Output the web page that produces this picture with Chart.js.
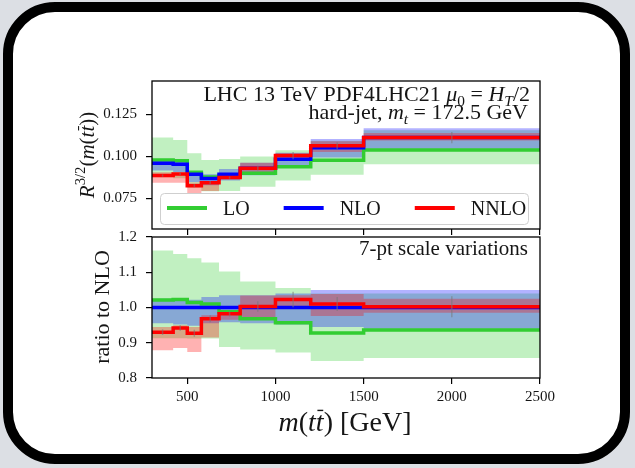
<!DOCTYPE html>
<html>
<head>
<meta charset="utf-8">
<script src="https://cdn.jsdelivr.net/npm/chart.js@4"></script>
<style>
html,body{margin:0;padding:0;width:635px;height:468px;overflow:hidden;background:#dcdfe4;}
#frame{position:absolute;left:3px;top:2px;width:627px;height:462px;box-sizing:border-box;border:10px solid #000;border-radius:52px;background:#fff;}
canvas{position:absolute;left:0;top:0;}
</style>
</head>
<body>
<div id="frame"></div>
<canvas id="top" width="635" height="468"></canvas>
<canvas id="bot" width="635" height="468"></canvas>
<script>
// ---- data ----
const edges = [300, 420, 500, 580, 680, 800, 1000, 1200, 1500, 2500];
const xTicks = [500, 1000, 1500, 2000, 2500];
const topTicks = [0.075, 0.100, 0.125];
const ratioTicks = [0.8, 0.9, 1.0, 1.1, 1.2];

// top panel: R^{3/2}(m(tt))
const loTop     = [0.0978, 0.0974, 0.0905, 0.0877, 0.0882, 0.0899, 0.0938, 0.0976, 0.1038];
const loTopUp   = [0.1112, 0.1097, 0.1018, 0.0978, 0.0984, 0.0998, 0.1036, 0.1092, 0.1155];
const loTopDn   = [0.0875, 0.0869, 0.0814, 0.0791, 0.0793, 0.0818, 0.0856, 0.0890, 0.0952];
const nloTop    = [0.0958, 0.0952, 0.0893, 0.0867, 0.0893, 0.0929, 0.0982, 0.1050, 0.1111];
const nloTopUp  = [0.0982, 0.0976, 0.0913, 0.0893, 0.0924, 0.0962, 0.1021, 0.1103, 0.1167];
const nloTopDn  = [0.0915, 0.0906, 0.0847, 0.0828, 0.0855, 0.0887, 0.0935, 0.0992, 0.1044];
const nnloTop   = [0.0885, 0.0895, 0.0825, 0.0843, 0.0873, 0.0929, 0.1004, 0.1063, 0.1111];
const nnloTopUp = [0.0905, 0.0904, 0.0844, 0.0848, 0.0886, 0.0961, 0.1016, 0.1090, 0.1139];
const nnloTopDn = [0.0842, 0.0843, 0.0780, 0.0793, 0.0862, 0.0900, 0.0979, 0.1025, 0.1094];
const errTop    = [0.0007, 0.0007, 0.0009, 0.0009, 0.0007, 0.0014, 0.0022, 0.0021, 0.0033];

// bottom panel: ratio to NLO
const loRat     = [1.021, 1.023, 1.014, 1.010, 0.988, 0.968, 0.957, 0.928, 0.936];
const loRatUp   = [1.162, 1.152, 1.140, 1.128, 1.102, 1.074, 1.055, 1.040, 1.040];
const loRatDn   = [0.913, 0.913, 0.912, 0.912, 0.888, 0.881, 0.872, 0.848, 0.857];
const nloRat    = [1.000, 1.000, 1.000, 1.000, 1.000, 1.000, 1.000, 1.000, 1.000];
const nloRatUp  = [1.025, 1.025, 1.022, 1.030, 1.035, 1.035, 1.040, 1.050, 1.050];
const nloRatDn  = [0.955, 0.952, 0.948, 0.955, 0.958, 0.955, 0.952, 0.945, 0.940];
const nnloRat   = [0.930, 0.942, 0.927, 0.968, 0.982, 1.003, 1.023, 1.010, 1.002];
const nnloRatUp = [0.945, 0.950, 0.945, 0.978, 0.992, 1.034, 1.035, 1.038, 1.025];
const nnloRatDn = [0.879, 0.885, 0.874, 0.915, 0.965, 0.969, 0.997, 0.976, 0.985];
const errRat    = [0.008, 0.008, 0.010, 0.010, 0.008, 0.015, 0.022, 0.020, 0.030];

const seriesNames = ['LO', 'NLO', 'NNLO'];
const lineColors = ['rgb(50,205,50)', 'rgb(0,0,255)', 'rgb(255,0,0)'];
const bandColors = ['rgba(50,205,50,0.3)', 'rgba(0,0,255,0.3)', 'rgba(255,0,0,0.3)'];

// ---- helpers ----
const FAM = '"Liberation Serif"';
const TXT = '#151515';
function steps(vals){ return edges.map((e,i)=>({x:e, y:vals[Math.min(i, vals.length-1)]})); }

function buildDatasets(c, u, d){
  const ds = [];
  for (let k=2;k>=0;k--){
    ds.push({label:seriesNames[k], data:steps(c[k]), stepped:'before', borderColor:lineColors[k],
      borderWidth:3.5, pointRadius:0, fill:false, order:2-k, borderJoinStyle:'miter', borderCapStyle:'butt'});
  }
  for (let k=2;k>=0;k--){
    const idx = ds.length;
    ds.push({label:seriesNames[k]+' up', data:steps(u[k]), stepped:'before', borderWidth:0, borderColor:'rgba(0,0,0,0)',
      backgroundColor:bandColors[k], pointRadius:0, fill:{target: idx+1}, order:5-k});
    ds.push({label:seriesNames[k]+' dn', data:steps(d[k]), stepped:'before', borderWidth:0, borderColor:'rgba(0,0,0,0)',
      pointRadius:0, fill:false, order:5-k});
  }
  return ds;
}

function fontFor(st, size){
  const it = (st==='i'||st==='isub'||st==='ibar');
  const sz = (st==='sub'||st==='isub'||st==='sup') ? size*0.7 : size;
  return (it?'italic ':'') + sz + 'px ' + FAM;
}
function richWidth(ctx, segs, size){
  let w=0; for (const [t,st] of segs){ ctx.font=fontFor(st,size); w+=ctx.measureText(t).width; } return w;
}
function drawRich(ctx, segs, x, y, align, size){
  const w = richWidth(ctx, segs, size);
  let cx = align==='right' ? x-w : (align==='center' ? x-w/2 : x);
  ctx.textAlign='left'; ctx.textBaseline='alphabetic'; ctx.fillStyle=TXT;
  for (const [t,st] of segs){
    ctx.font = fontFor(st,size);
    const dy = (st==='sub'||st==='isub') ? size*0.22 : (st==='sup' ? -size*0.42 : 0);
    ctx.fillText(t, cx, y+dy);
    const tw = ctx.measureText(t).width;
    if (st==='ibar') ctx.fillRect(cx+tw*0.2, y-size*0.76, tw*0.75, Math.max(1, size*0.05));
    cx += tw;
  }
}

const boxPlugin = {
  id:'box',
  afterDatasetsDraw(chart){
    const a = chart.chartArea, ctx = chart.ctx;
    ctx.save(); ctx.strokeStyle='#000'; ctx.lineWidth=1.3;
    ctx.strokeRect(a.left, a.top, a.right-a.left, a.bottom-a.top);
    ctx.restore();
  }
};
function errPlugin(center, err){
  return { id:'err', afterDatasetsDraw(chart){
    const xs = chart.scales.x, ys = chart.scales.y, ctx = chart.ctx;
    ctx.save(); ctx.strokeStyle='rgba(120,120,120,0.55)'; ctx.lineWidth=1.5;
    for (let i=0;i<center.length;i++){
      const xc = xs.getPixelForValue((edges[i]+edges[i+1])/2);
      ctx.beginPath(); ctx.moveTo(xc, ys.getPixelForValue(center[i]-err[i])); ctx.lineTo(xc, ys.getPixelForValue(center[i]+err[i])); ctx.stroke();
    }
    ctx.restore();
  }};
}

function axes(yMin, yMax, yTicks, yDigits, showX, xH){
  return {
    x:{type:'linear', min:edges[0], max:edges[edges.length-1],
      afterFit(s){ s.height = xH; },
      afterBuildTicks(s){ s.ticks = xTicks.map(v=>({value:v})); },
      ticks:{display:showX, color:TXT, font:{family:'Liberation Serif', size:15}, padding:4, maxRotation:0, callback:v=>String(v)},
      grid:{drawOnChartArea:false, drawTicks:true, tickLength:6, color:'#000', lineWidth:1.2},
      border:{display:false}},
    y:{min:yMin, max:yMax,
      afterFit(s){ s.width = 152; },
      afterBuildTicks(s){ s.ticks = yTicks.map(v=>({value:v})); },
      ticks:{color:TXT, font:{family:'Liberation Serif', size:15}, padding:9, callback:v=>Number(v).toFixed(yDigits)},
      grid:{drawOnChartArea:false, drawTicks:true, tickLength:6, color:'#000', lineWidth:1.2},
      border:{display:false}}
  };
}

const common = {animation:false, responsive:false, devicePixelRatio:1,
  plugins:{legend:{display:false}, tooltip:{enabled:false}},
  elements:{point:{radius:0}, line:{tension:0}}};

// ---- top chart ----
const topText = {
  id:'topText',
  afterDraw(chart){
    const ctx = chart.ctx; ctx.save();
    drawRich(ctx, [['LHC 13 TeV PDF4LHC21 ','r'],['\u03bc','i'],['0','sub'],[' = ','r'],['H','i'],['T','isub'],['/2','r']], 530, 101, 'right', 22);
    drawRich(ctx, [['hard-jet, ','r'],['m','i'],['t','isub'],[' = 172.5 GeV','r']], 528, 119, 'right', 22);
    ctx.beginPath(); ctx.roundRect(160.5, 193.5, 368, 31, 4);
    ctx.fillStyle='rgba(255,255,255,0.8)'; ctx.fill(); ctx.strokeStyle='#cfcfcf'; ctx.lineWidth=1; ctx.stroke();
    let x = 167;
    for (let k=0;k<3;k++){
      ctx.strokeStyle=lineColors[k]; ctx.lineWidth=4; ctx.beginPath(); ctx.moveTo(x,208); ctx.lineTo(x+40,208); ctx.stroke();
      ctx.fillStyle=TXT; ctx.textAlign='left'; ctx.textBaseline='alphabetic'; ctx.font='20px '+FAM;
      ctx.fillText(seriesNames[k], x+56, 215);
      x += 56 + ctx.measureText(seriesNames[k]).width + 34;
    }
    ctx.translate(87, 155); ctx.rotate(-Math.PI/2);
    drawRich(ctx, [['R','i'],['3/2','sup'],['(','r'],['m','i'],['(','r'],['t','i'],['t','ibar'],[')','r'],[')','r']], 0, 7, 'center', 21);
    ctx.restore();
  }
};
new Chart(document.getElementById('top'), {
  type:'line',
  data:{datasets: buildDatasets([loTop,nloTop,nnloTop],[loTopUp,nloTopUp,nnloTopUp],[loTopDn,nloTopDn,nnloTopDn])},
  options:Object.assign({}, common, {
    layout:{padding:{top:81, right:95, bottom:232, left:0}},
    scales: axes(0.0567, 0.1448, topTicks, 3, false, 7)
  }),
  plugins:[errPlugin(nnloTop, errTop), boxPlugin, topText]
});

// ---- bottom chart ----
const botText = {
  id:'botText',
  afterDraw(chart){
    const ctx = chart.ctx; ctx.save();
    drawRich(ctx, [['7-pt scale variations','r']], 528, 255, 'right', 21);
    drawRich(ctx, [['m','i'],['(','r'],['t','i'],['t','ibar'],[')','r'],[' [GeV]','r']], 345, 431, 'center', 28);
    ctx.translate(102, 307); ctx.rotate(-Math.PI/2);
    drawRich(ctx, [['ratio to NLO','r']], 0, 7, 'center', 22);
    ctx.restore();
  }
};
new Chart(document.getElementById('bot'), {
  type:'line',
  data:{datasets: buildDatasets([loRat,nloRat,nnloRat],[loRatUp,nloRatUp,nnloRatUp],[loRatDn,nloRatDn,nnloRatDn])},
  options:Object.assign({}, common, {
    layout:{padding:{top:237, right:95, bottom:60, left:0}},
    scales: axes(0.8, 1.2, ratioTicks, 1, true, 30)
  }),
  plugins:[errPlugin(nnloRat, errRat), boxPlugin, botText]
});
</script>
</body>
</html>
